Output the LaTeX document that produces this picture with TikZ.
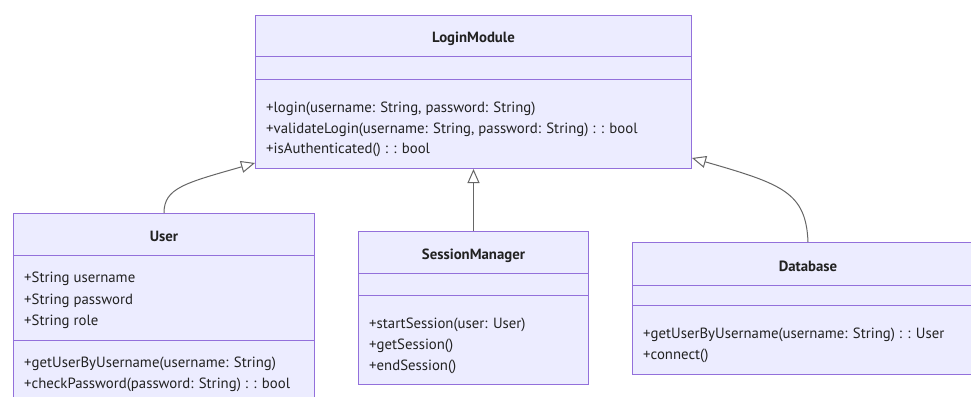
\documentclass[tikz,border=0pt]{standalone}
\usepackage{fontspec}
\setmainfont{PT Sans}
\usetikzlibrary{arrows.meta,calc}
\definecolor{clsfill}{HTML}{ECECFF}
\definecolor{clsdraw}{HTML}{9370DB}
\definecolor{edge}{HTML}{666666}
\definecolor{ink}{HTML}{222222}
\tikzset{
  cls/.style={draw=clsdraw, fill=clsfill, line width=1pt, rectangle, inner sep=0pt, anchor=north west},
  sep/.style={draw=clsdraw, line width=1pt},
  member/.style={anchor=base west, inner sep=0pt, text=ink, font=\fontsize{14.8}{17}\selectfont},
  title/.style={inner sep=0pt, text=ink, font=\fontsize{14.8}{17}\selectfont\bfseries},
  inherit/.style={draw=edge, line width=1pt, -{Triangle[length=14pt, width=12pt, fill=white]}},
}
\begin{document}
\begin{tikzpicture}[x=1pt, y=-1pt]
\clip (0,0) rectangle (971,396);
\fill[white] (0,0) rectangle (971,396);

% LoginModule
\node[cls, minimum width=436pt, minimum height=153pt] (lm) at (255,15) {};
\draw[sep] ($(lm.north west)+(0,42)$) -- ($(lm.north east)+(0,42)$);
\draw[sep] ($(lm.north west)+(0,64)$) -- ($(lm.north east)+(0,64)$);
\node[title] (lmT) at ($(lm.north)+(0,24)$) {LoginModule};
\node[member] (lm1) at (266,112.5) {+login(username: String, password: String)};
\node[member] (lm2) at (266,133) {+validateLogin(username: String, password: String) : : bool};
\node[member] (lm3) at (266,153.5) {+isAuthenticated() : : bool};

% User
\node[cls, minimum width=301pt, minimum height=200pt] (us) at (13,213) {};
\draw[sep] ($(us.north west)+(0,42)$) -- ($(us.north east)+(0,42)$);
\draw[sep] ($(us.north west)+(0,127)$) -- ($(us.north east)+(0,127)$);
\node[title] (usT) at ($(us.north)+(0,23)$) {User};
\node[member] (us1) at (24,282.5) {+String username};
\node[member] (us2) at (24,304) {+String password};
\node[member] (us3) at (24,325.5) {+String role};
\node[member] (us4) at (24,367.5) {+getUserByUsername(username: String)};
\node[member] (us5) at (24,388.5) {+checkPassword(password: String) : : bool};

% SessionManager
\node[cls, minimum width=230pt, minimum height=153pt] (sm) at (358,231) {};
\draw[sep] ($(sm.north west)+(0,42)$) -- ($(sm.north east)+(0,42)$);
\draw[sep] ($(sm.north west)+(0,64)$) -- ($(sm.north east)+(0,64)$);
\node[title] (smT) at ($(sm.north)+(0,25)$) {SessionManager};
\node[member] (sm1) at (369,328.5) {+startSession(user: User)};
\node[member] (sm2) at (369,349.5) {+getSession()};
\node[member] (sm3) at (369,370.5) {+endSession()};

% Database (runs past the right edge of the sheet)
\node[cls, minimum width=370pt, minimum height=132pt] (db) at (632,242) {};
\draw[sep] ($(db.north west)+(0,43)$) -- ($(db.north east)+(0,43)$);
\draw[sep] ($(db.north west)+(0,63)$) -- ($(db.north east)+(0,63)$);
\coordinate (dbTop) at ($(db.north west)+(176,0)$);
\node[title] (dbT) at ($(dbTop)+(0,24)$) {Database};
\node[member] (db1) at (643,338.5) {+getUserByUsername(username: String) : : User};
\node[member] (db2) at (643,359.5) {+connect()};

% Inheritance edges
\coordinate (lmL) at ($(lm.south west)+(0,-6)$);
\coordinate (lmR) at ($(lm.south east)+(0,-11)$);
\draw[inherit] (us.north) .. controls ($(us.north)+(0,-25)$) and ($(lmL)+(-70,20)$) .. (lmL);
\draw[inherit] (sm.north) -- (lm.south);
\draw[inherit] (dbTop) .. controls ($(dbTop)+(-2,-50)$) and ($(lmR)+(90,26)$) .. (lmR);
\end{tikzpicture}
\end{document}
